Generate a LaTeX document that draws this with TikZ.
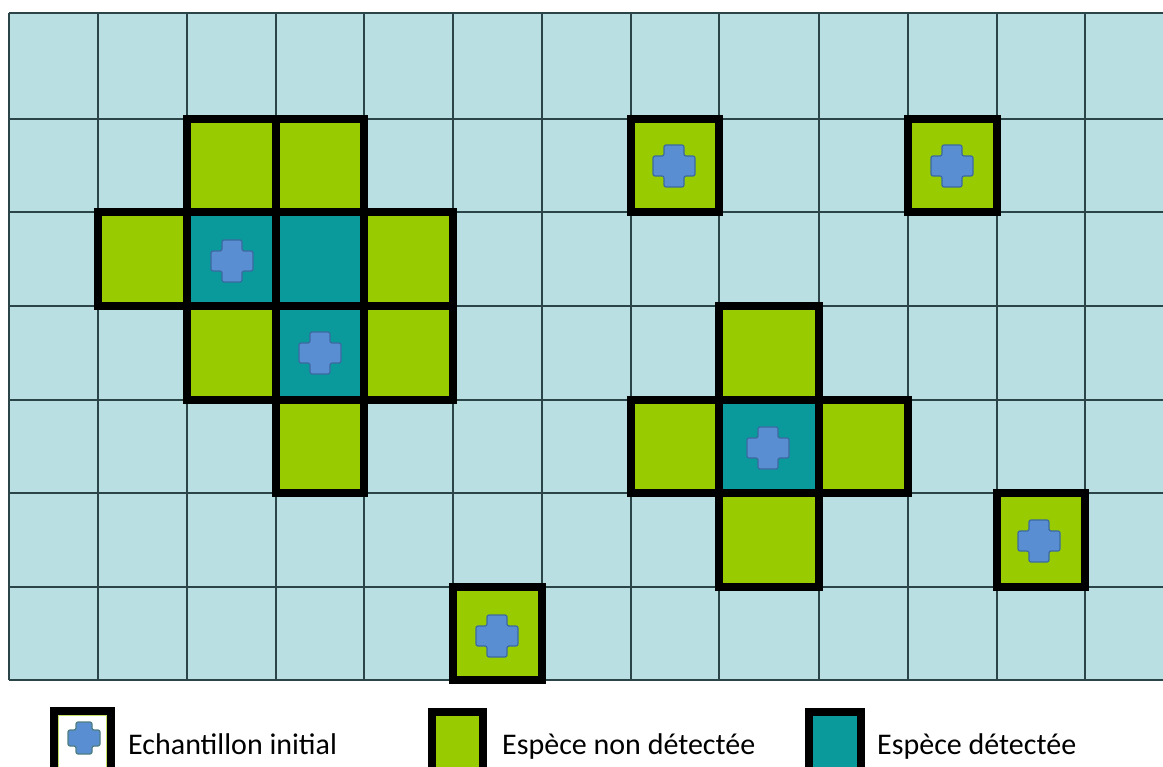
\documentclass[tikz,border=0pt]{standalone}
\usepackage{fontspec}
\setmainfont{Carlito}
\definecolor{bgcyan}{HTML}{B9DFE3}
\definecolor{gridline}{HTML}{2A4448}
\definecolor{leafgreen}{HTML}{99CC00}
\definecolor{tealcell}{HTML}{0A9A9C}
\definecolor{plusfill}{HTML}{5A8ED2}
\definecolor{plusedge}{HTML}{3A6AA0}
\tikzset{
  gridrule/.style={draw=gridline, line width=1.4},
  nondet/.style={fill=leafgreen},
  detect/.style={fill=tealcell},
  frame/.style={draw=black, line width=8, line join=miter},
  legtext/.style={anchor=base west, inner sep=0pt, font=\fontsize{30}{36}\selectfont},
  sample/.pic={
    \path[fill=plusfill, draw=plusedge, line width=1.2, rounded corners=2]
      (-10,-21) -- (10,-21) -- (10,-10) -- (21,-10) -- (21,10) -- (10,10) -- (10,21)
      -- (-10,21) -- (-10,10) -- (-21,10) -- (-21,-10) -- (-10,-10) -- cycle;
  },
  smallsample/.pic={
    \path[fill=plusfill, draw=plusedge!80!leafgreen, line width=1.2, rounded corners=2]
      (-8,-16) -- (8,-16) -- (8,-8) -- (16,-8) -- (16,8) -- (8,8) -- (8,16)
      -- (-8,16) -- (-8,8) -- (-16,8) -- (-16,-8) -- (-8,-8) -- cycle;
  }
}
\begin{document}
\begin{tikzpicture}[x=1pt,y=-1pt]
\useasboundingbox (0,0) rectangle (1163,767);
\clip (0,0) rectangle (1163,767);
\fill[white] (0,0) rectangle (1163,767);
% background grid
\fill[bgcyan] (9,13) rectangle (1163,680);
\foreach \yy in {13,119,212,306,400,493,587,680}
  \draw[gridrule] (9,\yy) -- (1163,\yy);
\foreach \xx in {9,98,187,276,364,453,542,631,719,819,908,997,1085}
  \draw[gridrule] (\xx,13) -- (\xx,680);
% fills: species not detected
\foreach \a/\b/\c/\d in {187/119/276/212, 276/119/364/212, 98/212/187/306, 364/212/453/306,
  187/306/276/400, 364/306/453/400, 276/400/364/493,
  631/119/719/212, 908/119/997/212, 997/493/1085/587, 453/587/542/680,
  719/306/819/400, 631/400/719/493, 819/400/908/493, 719/493/819/587}
  \path[nondet] (\a,\b) rectangle (\c,\d);
% fills: species detected
\foreach \a/\b/\c/\d in {187/212/276/306, 276/212/364/306, 276/306/364/400, 719/400/819/493}
  \path[detect] (\a,\b) rectangle (\c,\d);
% thick frames
\foreach \a/\b/\c/\d in {187/119/276/212, 276/119/364/212, 98/212/187/306, 364/212/453/306,
  187/306/276/400, 364/306/453/400, 276/400/364/493,
  631/119/719/212, 908/119/997/212, 997/493/1085/587, 453/587/542/680,
  719/306/819/400, 631/400/719/493, 819/400/908/493, 719/493/819/587,
  187/212/276/306, 276/212/364/306, 276/306/364/400, 719/400/819/493}
  \path[frame] (\a,\b) rectangle (\c,\d);
% initial samples
\pic (s1) at (232,261) {sample};
\pic (s2) at (320,353) {sample};
\pic (s3) at (674,166) {sample};
\pic (s4) at (952,166) {sample};
\pic (s5) at (1039,541) {sample};
\pic (s6) at (497,636) {sample};
\pic (s7) at (768,448) {sample};
% legend
\path[fill=white, draw=leafgreen!60, line width=1.5] (58,715) rectangle (107,780);
\path[frame] (54,711) rectangle (111,780);
\pic (ls) at (84,738) {smallsample};
\node[legtext] (l1) at (128,754) {Echantillon initial};
\path[nondet] (432,712) rectangle (483,780);
\path[frame] (432,712) rectangle (483,780);
\node[legtext] (l2) at (502,754) {Espèce non détectée};
\path[detect] (809,712) rectangle (861,780);
\path[frame] (809,712) rectangle (861,780);
\node[legtext] (l3) at (877,754) {Espèce détectée};
\end{tikzpicture}
\end{document}
